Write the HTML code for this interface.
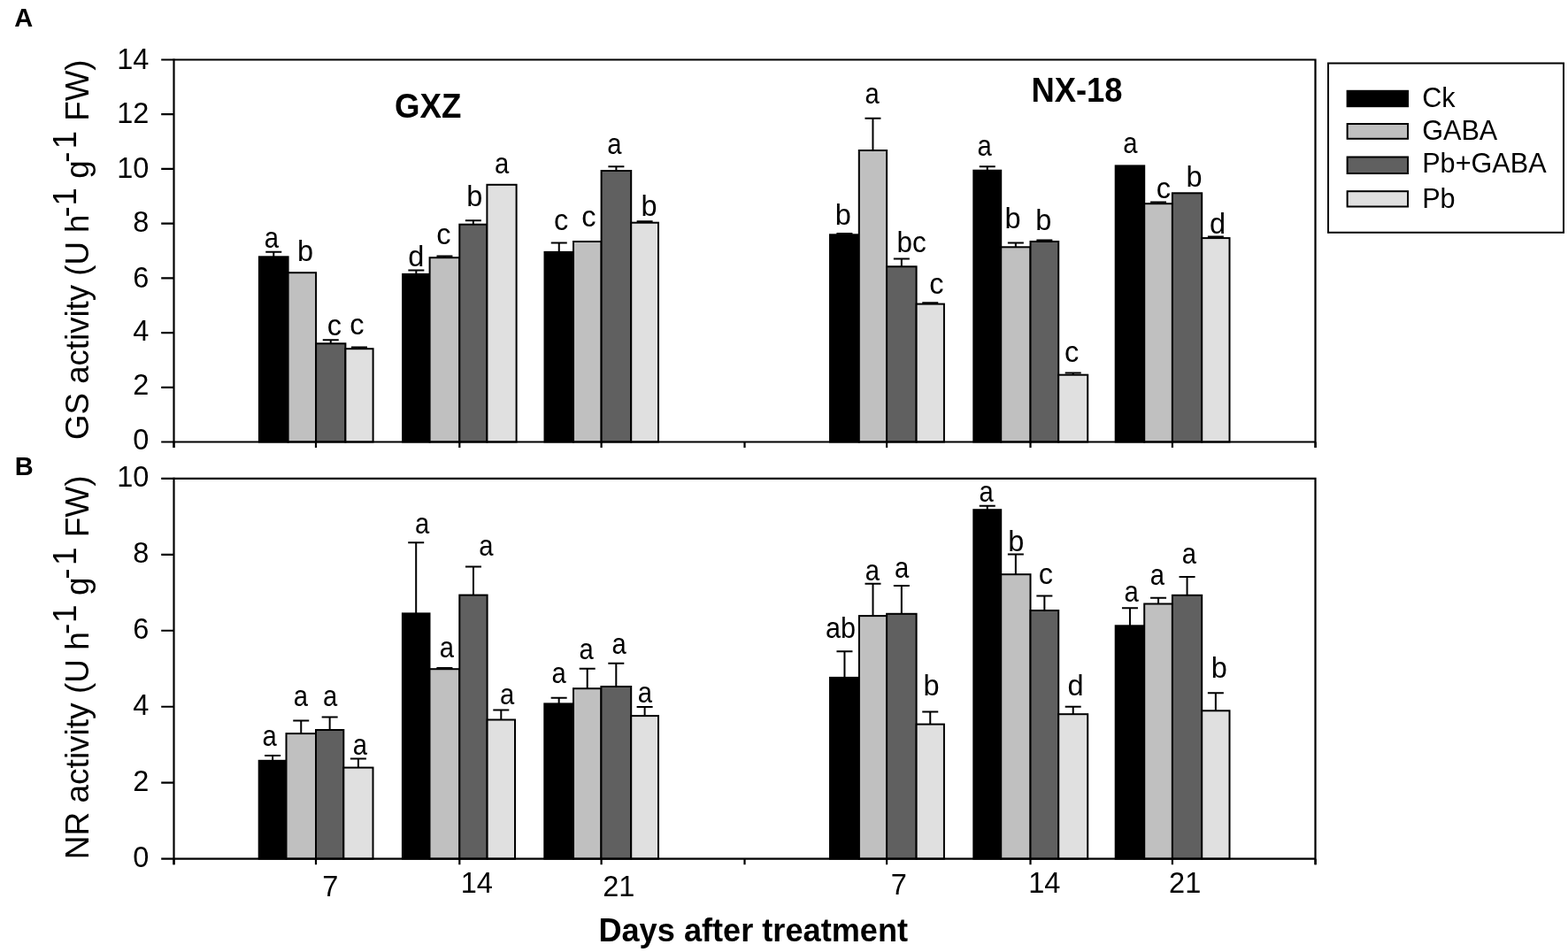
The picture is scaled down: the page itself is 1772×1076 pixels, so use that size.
<!DOCTYPE html>
<html><head><meta charset="utf-8"><title>GS and NR activity</title>
<style>
html,body{margin:0;padding:0;background:#fff;width:1772px;height:1076px;overflow:hidden}
svg{display:block}
text{font-family:"Liberation Sans",Arial,sans-serif;fill:#000}
.tk{font-size:32.5px}
.lt{font-size:32.5px}
.lg{font-size:32px}
.ti{font-size:38px;font-weight:bold}
.xt{font-size:37.5px;font-weight:bold}
.pl{font-size:29px;font-weight:bold}
.yt{font-size:37px}
</style></head><body>
<svg width="1772" height="1076" viewBox="0 0 1772 1076">
<rect width="1772" height="1076" fill="#fff"/>
<rect x="292.9" y="290.3" width="32.7" height="209.2" fill="#000000" stroke="#000" stroke-width="2"/>
<path d="M309.25 290.3V284.8M300.25 284.8H318.25" stroke="#000" stroke-width="2" fill="none"/>
<rect x="325.6" y="308.2" width="31.5" height="191.3" fill="#c0c0c0" stroke="#000" stroke-width="2"/>
<rect x="357.1" y="388.3" width="33.3" height="111.2" fill="#606060" stroke="#000" stroke-width="2"/>
<path d="M373.75 388.3V384.2M364.75 384.2H382.75" stroke="#000" stroke-width="2" fill="none"/>
<rect x="390.4" y="394.2" width="31.2" height="105.3" fill="#e0e0e0" stroke="#000" stroke-width="2"/>
<path d="M406 394.2V392.4M397 392.4H415" stroke="#000" stroke-width="2" fill="none"/>
<rect x="455.1" y="309.9" width="30.5" height="189.6" fill="#000000" stroke="#000" stroke-width="2"/>
<path d="M470.35 309.9V305.5M461.35 305.5H479.35" stroke="#000" stroke-width="2" fill="none"/>
<rect x="485.6" y="291.2" width="33.7" height="208.3" fill="#c0c0c0" stroke="#000" stroke-width="2"/>
<path d="M502.45 291.2V289.4M493.45 289.4H511.45" stroke="#000" stroke-width="2" fill="none"/>
<rect x="519.3" y="253.7" width="31.1" height="245.8" fill="#606060" stroke="#000" stroke-width="2"/>
<path d="M534.85 253.7V249.3M525.85 249.3H543.85" stroke="#000" stroke-width="2" fill="none"/>
<rect x="550.4" y="208.8" width="33.2" height="290.7" fill="#e0e0e0" stroke="#000" stroke-width="2"/>
<rect x="615.5" y="284.9" width="32.5" height="214.6" fill="#000000" stroke="#000" stroke-width="2"/>
<path d="M631.75 284.9V274.5M622.75 274.5H640.75" stroke="#000" stroke-width="2" fill="none"/>
<rect x="648" y="273" width="31.6" height="226.5" fill="#c0c0c0" stroke="#000" stroke-width="2"/>
<rect x="679.6" y="193" width="33.6" height="306.5" fill="#606060" stroke="#000" stroke-width="2"/>
<path d="M696.4 193V188.3M687.4 188.3H705.4" stroke="#000" stroke-width="2" fill="none"/>
<rect x="713.2" y="251.7" width="30.8" height="247.8" fill="#e0e0e0" stroke="#000" stroke-width="2"/>
<path d="M728.6 251.7V250.3M719.6 250.3H737.6" stroke="#000" stroke-width="2" fill="none"/>
<rect x="938" y="265.3" width="32.8" height="234.2" fill="#000000" stroke="#000" stroke-width="2"/>
<path d="M954.4 265.3V264.1M945.4 264.1H963.4" stroke="#000" stroke-width="2" fill="none"/>
<rect x="970.8" y="170" width="31.3" height="329.5" fill="#c0c0c0" stroke="#000" stroke-width="2"/>
<path d="M986.45 170V133.8M977.45 133.8H995.45" stroke="#000" stroke-width="2" fill="none"/>
<rect x="1002.1" y="301.3" width="33.5" height="198.2" fill="#606060" stroke="#000" stroke-width="2"/>
<path d="M1018.85 301.3V292.4M1009.85 292.4H1027.85" stroke="#000" stroke-width="2" fill="none"/>
<rect x="1035.6" y="343.6" width="31.3" height="155.9" fill="#e0e0e0" stroke="#000" stroke-width="2"/>
<path d="M1051.25 343.6V342.2M1042.25 342.2H1060.25" stroke="#000" stroke-width="2" fill="none"/>
<rect x="1100.3" y="192.7" width="30.9" height="306.8" fill="#000000" stroke="#000" stroke-width="2"/>
<path d="M1115.75 192.7V188.3M1106.75 188.3H1124.75" stroke="#000" stroke-width="2" fill="none"/>
<rect x="1131.2" y="279.3" width="33.3" height="220.2" fill="#c0c0c0" stroke="#000" stroke-width="2"/>
<path d="M1147.85 279.3V274.5M1138.85 274.5H1156.85" stroke="#000" stroke-width="2" fill="none"/>
<rect x="1164.5" y="273" width="31.7" height="226.5" fill="#606060" stroke="#000" stroke-width="2"/>
<path d="M1180.35 273V271.5M1171.35 271.5H1189.35" stroke="#000" stroke-width="2" fill="none"/>
<rect x="1196.2" y="423.7" width="33" height="75.8" fill="#e0e0e0" stroke="#000" stroke-width="2"/>
<path d="M1212.7 423.7V421.4M1203.7 421.4H1221.7" stroke="#000" stroke-width="2" fill="none"/>
<rect x="1260.7" y="187.4" width="32.5" height="312.1" fill="#000000" stroke="#000" stroke-width="2"/>
<rect x="1293.2" y="230.2" width="31.7" height="269.3" fill="#c0c0c0" stroke="#000" stroke-width="2"/>
<path d="M1309.05 230.2V228.4M1300.05 228.4H1318.05" stroke="#000" stroke-width="2" fill="none"/>
<rect x="1324.9" y="218.3" width="33.3" height="281.2" fill="#606060" stroke="#000" stroke-width="2"/>
<rect x="1358.2" y="269.1" width="31.3" height="230.4" fill="#e0e0e0" stroke="#000" stroke-width="2"/>
<path d="M1373.85 269.1V267.4M1364.85 267.4H1382.85" stroke="#000" stroke-width="2" fill="none"/>
<path d="M196.5 67.5H1486.5V506" stroke="#000" stroke-width="2.2" fill="none"/>
<path d="M196.5 66.4V506" stroke="#000" stroke-width="2.2" fill="none"/>
<path d="M196.5 499.5H1486.5" stroke="#000" stroke-width="2.2" fill="none"/>
<path d="M196.5 499.5V506M357 499.5V506M519.3 499.5V506M679.6 499.5V506M841.5 499.5V506M1002.1 499.5V506M1164.5 499.5V506M1324.9 499.5V506M1486.6 499.5V506" stroke="#000" stroke-width="2.2" fill="none"/>
<text x="168.3" y="508.3" class="tk" text-anchor="end">0</text>
<text x="168.3" y="445.95" class="tk" text-anchor="end">2</text>
<text x="168.3" y="384.95" class="tk" text-anchor="end">4</text>
<text x="168.3" y="324.6" class="tk" text-anchor="end">6</text>
<text x="168.3" y="262" class="tk" text-anchor="end">8</text>
<text x="168.3" y="201.35" class="tk" text-anchor="end">10</text>
<text x="168.3" y="138.75" class="tk" text-anchor="end">12</text>
<text x="168.3" y="77.95" class="tk" text-anchor="end">14</text>
<path d="M182.2 499.5H196.5M182.2 437.79H196.5M182.2 376.07H196.5M182.2 314.36H196.5M182.2 252.64H196.5M182.2 190.93H196.5M182.2 129.21H196.5M182.2 67.5H196.5" stroke="#000" stroke-width="2.2" fill="none"/>
<text transform="translate(306.9 279.5) scale(0.9 1)" class="lt" text-anchor="middle">a</text>
<text transform="translate(345 295.4) scale(1 1)" class="lt" text-anchor="middle">b</text>
<text transform="translate(377.85 379.3) scale(1 1)" class="lt" text-anchor="middle">c</text>
<text transform="translate(403.45 378) scale(1 1)" class="lt" text-anchor="middle">c</text>
<text transform="translate(470.25 301) scale(1 1)" class="lt" text-anchor="middle">d</text>
<text transform="translate(501.25 275.7) scale(1 1)" class="lt" text-anchor="middle">c</text>
<text transform="translate(536.3 232.6) scale(1 1)" class="lt" text-anchor="middle">b</text>
<text transform="translate(567.2 195.5) scale(0.9 1)" class="lt" text-anchor="middle">a</text>
<text transform="translate(634.15 259.7) scale(1 1)" class="lt" text-anchor="middle">c</text>
<text transform="translate(665.35 256) scale(1 1)" class="lt" text-anchor="middle">c</text>
<text transform="translate(694.5 174.2) scale(0.9 1)" class="lt" text-anchor="middle">a</text>
<text transform="translate(733.6 244) scale(1 1)" class="lt" text-anchor="middle">b</text>
<text transform="translate(952.9 254.2) scale(1 1)" class="lt" text-anchor="middle">b</text>
<text transform="translate(985.65 117) scale(0.9 1)" class="lt" text-anchor="middle">a</text>
<text transform="translate(1030.2 285.4) scale(0.97 1)" class="lt" text-anchor="middle">bc</text>
<text transform="translate(1058.25 332.2) scale(1 1)" class="lt" text-anchor="middle">c</text>
<text transform="translate(1112.6 175.7) scale(0.9 1)" class="lt" text-anchor="middle">a</text>
<text transform="translate(1144.5 258.2) scale(1 1)" class="lt" text-anchor="middle">b</text>
<text transform="translate(1179.3 259.7) scale(1 1)" class="lt" text-anchor="middle">b</text>
<text transform="translate(1211.1 409) scale(1 1)" class="lt" text-anchor="middle">c</text>
<text transform="translate(1277.45 173.4) scale(0.9 1)" class="lt" text-anchor="middle">a</text>
<text transform="translate(1314.85 224.4) scale(1 1)" class="lt" text-anchor="middle">c</text>
<text transform="translate(1349.6 211.1) scale(1 1)" class="lt" text-anchor="middle">b</text>
<text transform="translate(1376.1 264.1) scale(1 1)" class="lt" text-anchor="middle">d</text>
<rect x="292.7" y="859.8" width="30.8" height="110.9" fill="#000000" stroke="#000" stroke-width="2"/>
<path d="M308.1 859.8V853.9M299.1 853.9H317.1" stroke="#000" stroke-width="2" fill="none"/>
<rect x="323.5" y="829.1" width="33.5" height="141.6" fill="#c0c0c0" stroke="#000" stroke-width="2"/>
<path d="M340.25 829.1V814.5M331.25 814.5H349.25" stroke="#000" stroke-width="2" fill="none"/>
<rect x="357" y="825" width="31.3" height="145.7" fill="#606060" stroke="#000" stroke-width="2"/>
<path d="M372.65 825V810.6M363.65 810.6H381.65" stroke="#000" stroke-width="2" fill="none"/>
<rect x="388.3" y="867.6" width="33.2" height="103.1" fill="#e0e0e0" stroke="#000" stroke-width="2"/>
<path d="M404.9 867.6V857.6M395.9 857.6H413.9" stroke="#000" stroke-width="2" fill="none"/>
<rect x="454.9" y="693.4" width="30.6" height="277.3" fill="#000000" stroke="#000" stroke-width="2"/>
<path d="M470.2 693.4V613.2M461.2 613.2H479.2" stroke="#000" stroke-width="2" fill="none"/>
<rect x="485.5" y="756.2" width="33.8" height="214.5" fill="#c0c0c0" stroke="#000" stroke-width="2"/>
<path d="M502.4 756.2V754.9M493.4 754.9H511.4" stroke="#000" stroke-width="2" fill="none"/>
<rect x="519.3" y="672.6" width="31.3" height="298.1" fill="#606060" stroke="#000" stroke-width="2"/>
<path d="M534.95 672.6V640.4M525.95 640.4H543.95" stroke="#000" stroke-width="2" fill="none"/>
<rect x="550.6" y="813.5" width="31.4" height="157.2" fill="#e0e0e0" stroke="#000" stroke-width="2"/>
<path d="M566.3 813.5V802.5M557.3 802.5H575.3" stroke="#000" stroke-width="2" fill="none"/>
<rect x="615.3" y="795.4" width="32.7" height="175.3" fill="#000000" stroke="#000" stroke-width="2"/>
<path d="M631.65 795.4V788.8M622.65 788.8H640.65" stroke="#000" stroke-width="2" fill="none"/>
<rect x="648" y="778.2" width="31.4" height="192.5" fill="#c0c0c0" stroke="#000" stroke-width="2"/>
<path d="M663.7 778.2V755.8M654.7 755.8H672.7" stroke="#000" stroke-width="2" fill="none"/>
<rect x="679.4" y="776" width="33.8" height="194.7" fill="#606060" stroke="#000" stroke-width="2"/>
<path d="M696.3 776V749.8M687.3 749.8H705.3" stroke="#000" stroke-width="2" fill="none"/>
<rect x="713.2" y="809.1" width="30.8" height="161.6" fill="#e0e0e0" stroke="#000" stroke-width="2"/>
<path d="M728.6 809.1V798.9M719.6 798.9H737.6" stroke="#000" stroke-width="2" fill="none"/>
<rect x="938" y="765.9" width="32.9" height="204.8" fill="#000000" stroke="#000" stroke-width="2"/>
<path d="M954.45 765.9V736.2M945.45 736.2H963.45" stroke="#000" stroke-width="2" fill="none"/>
<rect x="970.9" y="696.1" width="31.2" height="274.6" fill="#c0c0c0" stroke="#000" stroke-width="2"/>
<path d="M986.5 696.1V659.8M977.5 659.8H995.5" stroke="#000" stroke-width="2" fill="none"/>
<rect x="1002.1" y="693.8" width="33.5" height="276.9" fill="#606060" stroke="#000" stroke-width="2"/>
<path d="M1018.85 693.8V661.9M1009.85 661.9H1027.85" stroke="#000" stroke-width="2" fill="none"/>
<rect x="1035.6" y="818.6" width="31.3" height="152.1" fill="#e0e0e0" stroke="#000" stroke-width="2"/>
<path d="M1051.25 818.6V804.6M1042.25 804.6H1060.25" stroke="#000" stroke-width="2" fill="none"/>
<rect x="1100.3" y="576.2" width="30.9" height="394.5" fill="#000000" stroke="#000" stroke-width="2"/>
<path d="M1115.75 576.2V571.7M1106.75 571.7H1124.75" stroke="#000" stroke-width="2" fill="none"/>
<rect x="1131.2" y="649.2" width="33.3" height="321.5" fill="#c0c0c0" stroke="#000" stroke-width="2"/>
<path d="M1147.85 649.2V626.5M1138.85 626.5H1156.85" stroke="#000" stroke-width="2" fill="none"/>
<rect x="1164.5" y="690" width="31.7" height="280.7" fill="#606060" stroke="#000" stroke-width="2"/>
<path d="M1180.35 690V673.5M1171.35 673.5H1189.35" stroke="#000" stroke-width="2" fill="none"/>
<rect x="1196.2" y="807.2" width="33" height="163.5" fill="#e0e0e0" stroke="#000" stroke-width="2"/>
<path d="M1212.7 807.2V798.8M1203.7 798.8H1221.7" stroke="#000" stroke-width="2" fill="none"/>
<rect x="1260.7" y="707.3" width="32.5" height="263.4" fill="#000000" stroke="#000" stroke-width="2"/>
<path d="M1276.95 707.3V687.3M1267.95 687.3H1285.95" stroke="#000" stroke-width="2" fill="none"/>
<rect x="1293.2" y="682.5" width="31.7" height="288.2" fill="#c0c0c0" stroke="#000" stroke-width="2"/>
<path d="M1309.05 682.5V675.8M1300.05 675.8H1318.05" stroke="#000" stroke-width="2" fill="none"/>
<rect x="1324.9" y="672.8" width="33.3" height="297.9" fill="#606060" stroke="#000" stroke-width="2"/>
<path d="M1341.55 672.8V652M1332.55 652H1350.55" stroke="#000" stroke-width="2" fill="none"/>
<rect x="1358.2" y="803.3" width="31.3" height="167.4" fill="#e0e0e0" stroke="#000" stroke-width="2"/>
<path d="M1373.85 803.3V783.2M1364.85 783.2H1382.85" stroke="#000" stroke-width="2" fill="none"/>
<path d="M196.5 540.8H1486.5V977.2" stroke="#000" stroke-width="2.2" fill="none"/>
<path d="M196.5 539.7V977.2" stroke="#000" stroke-width="2.2" fill="none"/>
<path d="M196.5 970.7H1486.5" stroke="#000" stroke-width="2.2" fill="none"/>
<path d="M196.5 970.7V977.2M357 970.7V977.2M519.3 970.7V977.2M679.6 970.7V977.2M841.5 970.7V977.2M1002.1 970.7V977.2M1164.5 970.7V977.2M1324.9 970.7V977.2M1486.6 970.7V977.2" stroke="#000" stroke-width="2.2" fill="none"/>
<text x="168.3" y="979.6" class="tk" text-anchor="end">0</text>
<text x="168.3" y="893.6" class="tk" text-anchor="end">2</text>
<text x="168.3" y="808.2" class="tk" text-anchor="end">4</text>
<text x="168.3" y="722.3" class="tk" text-anchor="end">6</text>
<text x="168.3" y="635.6" class="tk" text-anchor="end">8</text>
<text x="168.3" y="549.5" class="tk" text-anchor="end">10</text>
<path d="M182.2 970.7H196.5M182.2 884.72H196.5M182.2 798.74H196.5M182.2 712.76H196.5M182.2 626.78H196.5M182.2 540.8H196.5" stroke="#000" stroke-width="2.2" fill="none"/>
<text transform="translate(304.65 843.1) scale(0.9 1)" class="lt" text-anchor="middle">a</text>
<text transform="translate(339.95 797.8) scale(0.9 1)" class="lt" text-anchor="middle">a</text>
<text transform="translate(373.15 797.8) scale(0.9 1)" class="lt" text-anchor="middle">a</text>
<text transform="translate(406.9 852.8) scale(0.9 1)" class="lt" text-anchor="middle">a</text>
<text transform="translate(477.05 602.5) scale(0.9 1)" class="lt" text-anchor="middle">a</text>
<text transform="translate(504.8 743) scale(0.9 1)" class="lt" text-anchor="middle">a</text>
<text transform="translate(549.45 627.8) scale(0.9 1)" class="lt" text-anchor="middle">a</text>
<text transform="translate(573.15 795.8) scale(0.9 1)" class="lt" text-anchor="middle">a</text>
<text transform="translate(631.7 771.7) scale(0.9 1)" class="lt" text-anchor="middle">a</text>
<text transform="translate(662.55 744.9) scale(0.9 1)" class="lt" text-anchor="middle">a</text>
<text transform="translate(699.7 739) scale(0.9 1)" class="lt" text-anchor="middle">a</text>
<text transform="translate(728.9 794) scale(0.9 1)" class="lt" text-anchor="middle">a</text>
<text transform="translate(950.05 721.1) scale(0.94 1)" class="lt" text-anchor="middle">ab</text>
<text transform="translate(985.9 656.4) scale(0.9 1)" class="lt" text-anchor="middle">a</text>
<text transform="translate(1019.2 652.7) scale(0.9 1)" class="lt" text-anchor="middle">a</text>
<text transform="translate(1052.6 786) scale(1 1)" class="lt" text-anchor="middle">b</text>
<text transform="translate(1114.55 566.8) scale(0.9 1)" class="lt" text-anchor="middle">a</text>
<text transform="translate(1148.25 623.2) scale(1 1)" class="lt" text-anchor="middle">b</text>
<text transform="translate(1181.85 660.4) scale(1 1)" class="lt" text-anchor="middle">c</text>
<text transform="translate(1215.6 786) scale(1 1)" class="lt" text-anchor="middle">d</text>
<text transform="translate(1278.55 680.3) scale(0.9 1)" class="lt" text-anchor="middle">a</text>
<text transform="translate(1307.95 661) scale(0.9 1)" class="lt" text-anchor="middle">a</text>
<text transform="translate(1343.85 637.2) scale(0.9 1)" class="lt" text-anchor="middle">a</text>
<text transform="translate(1377.75 766.2) scale(1 1)" class="lt" text-anchor="middle">b</text>
<text x="16.2" y="29.7" class="pl">A</text>
<text x="16.8" y="537.3" class="pl">B</text>
<text transform="translate(446 132.6) scale(0.964 1)" class="ti">GXZ</text>
<text transform="translate(1165.4 115.2) scale(0.957 1)" class="ti">NX-18</text>
<text transform="translate(99.8 496.9) rotate(-90) scale(0.99 1)" class="yt">GS activity (U h<tspan dy="-14" dx="-2.8">-</tspan><tspan dx="0.8">1</tspan><tspan dy="14"> g</tspan><tspan dy="-14" dx="-2.4">-</tspan><tspan dx="3.4">1</tspan><tspan dy="14" dx="1"> FW)</tspan></text>
<text transform="translate(99.8 971.2) rotate(-90) scale(1 1)" class="yt">NR activity (U h<tspan dy="-14" dx="-2.8">-</tspan><tspan dx="0.8">1</tspan><tspan dy="14"> g</tspan><tspan dy="-14" dx="-2.4">-</tspan><tspan dx="3.4">1</tspan><tspan dy="14" dx="1"> FW)</tspan></text>
<text x="373.2" y="1012.5" class="tk" text-anchor="middle">7</text>
<text x="538.8" y="1009.3" class="tk" text-anchor="middle">14</text>
<text x="699.25" y="1012.5" class="tk" text-anchor="middle">21</text>
<text x="1015.9" y="1010.9" class="tk" text-anchor="middle">7</text>
<text x="1180.3" y="1009.1" class="tk" text-anchor="middle">14</text>
<text x="1339.15" y="1009.1" class="tk" text-anchor="middle">21</text>
<text transform="translate(676.4 1064) scale(0.9646 1)" class="xt">Days after treatment</text>
<rect x="1501" y="71.5" width="266" height="191.3" fill="none" stroke="#000" stroke-width="2"/>
<rect x="1522.6" y="102.8" width="68.4" height="17.4" fill="#000000" stroke="#000" stroke-width="2"/>
<text transform="translate(1607.2 120.9) scale(0.957 1)" class="lg">Ck</text>
<rect x="1522.6" y="140" width="68.4" height="16.8" fill="#c0c0c0" stroke="#000" stroke-width="2"/>
<text transform="translate(1607.2 157.8) scale(0.957 1)" class="lg">GABA</text>
<rect x="1522.6" y="177.5" width="68.4" height="18.5" fill="#606060" stroke="#000" stroke-width="2"/>
<text transform="translate(1607.2 195.3) scale(0.957 1)" class="lg">Pb+GABA</text>
<rect x="1522.6" y="216.2" width="68.4" height="17.3" fill="#e0e0e0" stroke="#000" stroke-width="2"/>
<text transform="translate(1607.2 234.5) scale(0.957 1)" class="lg">Pb</text>
</svg>
</body></html>
